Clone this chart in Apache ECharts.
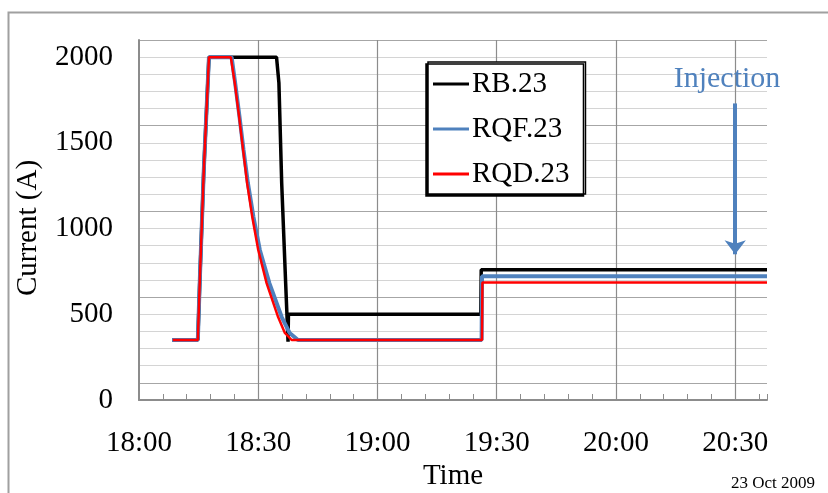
<!DOCTYPE html>
<html>
<head>
<meta charset="utf-8">
<script src="https://cdn.jsdelivr.net/npm/echarts@6/dist/echarts.min.js"></script>
<style>
html,body{margin:0;padding:0;background:#fff;}
#chart{width:828px;height:493px;}
</style>
</head>
<body>
<div id="chart"></div>
<script>
// Time in minutes after 18:00
const rbTime  = [8.5, 14.8, 15.3, 16.3, 17.6, 34.6, 35.2, 35.9, 36.9, 37.5, 37.6, 86.0, 86.1, 158];
const rbVal   = [350, 350, 700, 1340, 2000, 2000, 1850, 1265, 680, 340, 500, 500, 760, 760];
const rqfTime = [8.3, 14.8, 15.3, 16.3, 17.6, 23.3, 24.2, 25.3, 26.3, 27.4, 28.8, 30.4, 32.8, 35.9, 37.9, 40.0, 86.2, 86.3, 158];
const rqfVal  = [350, 350, 700, 1340, 2000, 2000, 1848, 1650, 1458, 1265, 1067, 875, 682, 484, 391, 350, 350, 722, 722];
const rqdTime = [8.5, 14.8, 15.3, 16.3, 17.6, 23.1, 24.1, 25.2, 26.2, 27.2, 28.5, 30.0, 32.1, 35.0, 36.7, 38.4, 86.3, 86.4, 158];
const rqdVal  = [350, 350, 700, 1340, 2000, 2000, 1848, 1650, 1458, 1265, 1067, 875, 682, 484, 391, 350, 350, 686, 686];
const seriesNames = ['RB.23', 'RQF.23', 'RQD.23'];
const xTickLabels = ['18:00', '18:30', '19:00', '19:30', '20:00', '20:30'];
const yTickLabels = ['0', '500', '1000', '1500', '2000'];
const injectionTime = 150;
const injectionFrom = 1730;
const injectionTo = 850;

const FONT = "'Liberation Serif','Times New Roman',serif";
const zip = (t, v) => t.map((x, i) => [x, v[i]]);

const chart = echarts.init(document.getElementById('chart'), null, {renderer: 'canvas'});
chart.setOption({
  animation: false,
  backgroundColor: '#fff',
  grid: {left: 139, right: 61, top: 40, bottom: 93, containLabel: false},
  xAxis: {
    type: 'value', min: 0, max: 158, interval: 30,
    axisLine: {show: true, lineStyle: {color: '#8c8c8c', width: 2}},
    axisTick: {show: true, inside: true, length: 6, lineStyle: {color: '#8c8c8c', width: 1}},
    minorTick: {show: true, splitNumber: 5, length: 6, lineStyle: {color: '#8c8c8c', width: 1}},
    axisLabel: {
      fontFamily: FONT, fontSize: 29, color: '#000', margin: 29,
      formatter: v => (v % 30 === 0 ? (xTickLabels[v / 30] || '') : '')
    },
    splitLine: {show: true, showMinLine: false, showMaxLine: false, lineStyle: {color: '#8c8c8c', width: 1.2}}
  },
  yAxis: {
    type: 'value', min: 0, max: 2100, interval: 100,
    axisLine: {show: true, lineStyle: {color: '#8c8c8c', width: 2}},
    axisTick: {show: false},
    axisLabel: {
      fontFamily: FONT, fontSize: 29, color: '#000', margin: 26,
      formatter: v => (v % 500 === 0 ? (yTickLabels[v / 500] || '') : '')
    },
    splitLine: {show: true, showMinLine: false, lineStyle: {color: ['#a6a6a6', '#d4d4d4', '#d4d4d4', '#d4d4d4', '#d4d4d4'], width: 1.2}}
  },
  legend: {
    orient: 'vertical', left: 428, top: 62,
    data: [
      {name: seriesNames[0], icon: 'rect', itemStyle: {color: '#000'}},
      {name: seriesNames[1], icon: 'rect', itemStyle: {color: '#4F81BD'}},
      {name: seriesNames[2], icon: 'rect', itemStyle: {color: '#FF0000'}}
    ],
    backgroundColor: '#fff', borderColor: '#000', borderWidth: 1.5,
    shadowColor: '#000', shadowOffsetX: -2, shadowOffsetY: 2, shadowBlur: 0,
    padding: [6, 16, 4, 5], itemGap: 13, itemWidth: 36, itemHeight: 3,
    textStyle: {fontFamily: FONT, fontSize: 29, color: '#000', lineHeight: 32, padding: [0, 0, 0, -2]}
  },
  series: [
    {name: seriesNames[0], type: 'line', symbol: 'none', data: zip(rbTime, rbVal),
     lineStyle: {color: '#000', width: 3.5}, itemStyle: {color: '#000'}},
    {name: seriesNames[1], type: 'line', symbol: 'none', data: zip(rqfTime, rqfVal),
     lineStyle: {color: '#4F81BD', width: 4}, itemStyle: {color: '#4F81BD'}},
    {name: seriesNames[2], type: 'line', symbol: 'none', data: zip(rqdTime, rqdVal),
     lineStyle: {color: '#FF0000', width: 2.5}, itemStyle: {color: '#FF0000'},
     markLine: {
       silent: true, symbol: ['none', 'arrow'], symbolSize: [16, 14],
       label: {show: false},
       lineStyle: {color: '#4F81BD', width: 4, type: 'solid'},
       data: [[{coord: [injectionTime, injectionFrom]}, {coord: [injectionTime, injectionTo]}]]
     }}
  ],
  graphic: [
    {type: 'rect', left: 6, top: 10, z: -10, silent: true,
     shape: {x: 0, y: 0, width: 1000, height: 1000},
     style: {fill: 'none', stroke: '#a0a0a0', lineWidth: 2}},
    {type: 'text', x: 453, y: 476, z: 10,
     style: {text: 'Time', font: "29px " + FONT, fill: '#000', align: 'center', verticalAlign: 'middle'}},
    {type: 'text', x: 28, y: 228, rotation: Math.PI / 2, z: 10,
     style: {text: 'Current (A)', font: "29px " + FONT, fill: '#000', align: 'center', verticalAlign: 'middle'}},
    {type: 'text', x: 727, y: 79, z: 10,
     style: {text: 'Injection', font: "30px " + FONT, fill: '#4F81BD', align: 'center', verticalAlign: 'middle'}},
    {type: 'text', x: 773, y: 484, z: 10,
     style: {text: '23 Oct 2009', font: "17px " + FONT, fill: '#000', align: 'center', verticalAlign: 'middle'}}
  ]
});
</script>
</body>
</html>
